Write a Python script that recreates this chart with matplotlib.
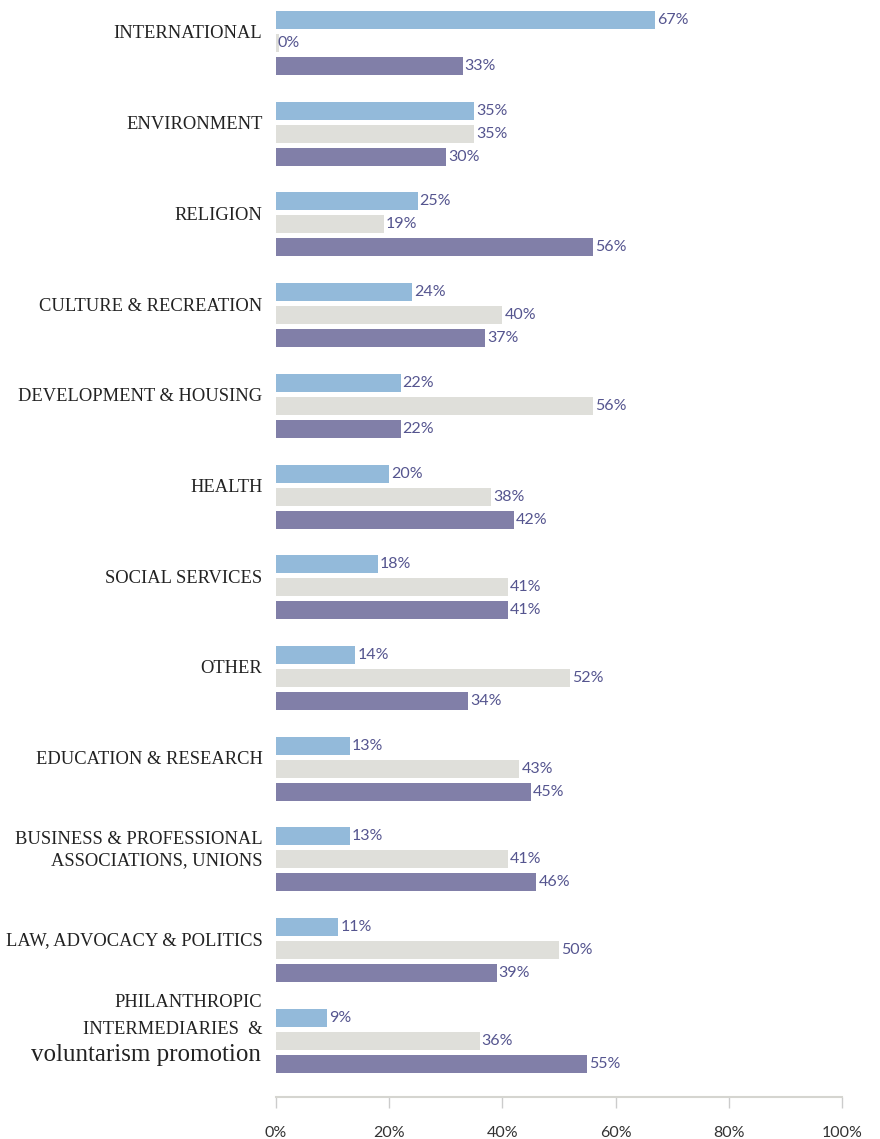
import numpy as np
import matplotlib.pyplot as plt

# Data (percent)
categories = [
    'INTERNATIONAL', 'ENVIRONMENT', 'RELIGION', 'CULTURE & RECREATION',
    'DEVELOPMENT & HOUSING', 'HEALTH', 'SOCIAL SERVICES', 'OTHER',
    'EDUCATION & RESEARCH', 'BUSINESS & PROFESSIONAL\nASSOCIATIONS, UNIONS',
    'LAW, ADVOCACY & POLITICS', '',
]
last_label_lines = ['PHILANTHROPIC', 'INTERMEDIARIES  &', 'voluntarism promotion']
blue_vals = [67, 35, 25, 24, 22, 20, 18, 14, 13, 13, 11, 9]
gray_vals = [0, 35, 19, 40, 56, 38, 41, 52, 43, 41, 50, 36]
purple_vals = [33, 30, 56, 37, 22, 42, 41, 34, 45, 46, 39, 55]
xticks = [0, 20, 40, 60, 80, 100]
xtick_labels = ['0%', '20%', '40%', '60%', '80%', '100%']

c_blue = '#93bada'
c_gray = '#dfdfda'
c_purple = '#817fa8'
c_val = '#55558f'

fig = plt.figure(figsize=(8.8, 11.39), dpi=100)
ax = fig.add_axes([276 / 880, 1 - 1097 / 1139, 566 / 880, 1094.8 / 1139])

y = np.arange(len(categories))
step = 0.2536
h = 0.198

series = [(blue_vals, c_blue, -step), (gray_vals, c_gray, 0.0), (purple_vals, c_purple, step)]
for vals, col, off in series:
    vals = np.array(vals, dtype=float)
    ax.barh(y + off, np.maximum(vals, 0.5), height=h, color=col, edgecolor='none')
    for yi, v in zip(y, vals):
        ax.text(v + 0.35, yi + off, f'{int(v)}%', va='center', ha='left',
                fontsize=11.5, color=c_val, family='Lato')

lab_x = -2.4
for yi, lab in zip(y, categories):
    ax.text(lab_x, yi - 0.1, lab, ha='right', va='center', fontsize=13.3,
            family='Liberation Serif', color='#222222', linespacing=1.35)

# last category: three lines, the last one lowercase and larger
ax.text(lab_x, y[-1] - 0.42, last_label_lines[0], ha='right', va='center',
        fontsize=13.3, family='Liberation Serif', color='#222222')
ax.text(lab_x, y[-1] - 0.12, last_label_lines[1], ha='right', va='center',
        fontsize=13.3, family='Liberation Serif', color='#222222')
ax.text(lab_x - 0.3, y[-1] + 0.16, last_label_lines[2], ha='right', va='center',
        fontsize=18, family='Liberation Serif', color='#222222')

ax.set_xlim(0, 100)
ax.set_ylim(11.62, -0.45)
ax.set_yticks([])
ax.set_xticks(xticks)
ax.set_xticklabels(xtick_labels, family='Lato', fontsize=11.5, color='#333333')
ax.tick_params(axis='x', length=8, width=1, color='#cccccc', pad=13)
for s in ['top', 'right', 'left']:
    ax.spines[s].set_visible(False)
ax.spines['bottom'].set_color('#d5d5d0')
ax.spines['bottom'].set_linewidth(1.5)

fig.savefig('out.png', dpi=100)
